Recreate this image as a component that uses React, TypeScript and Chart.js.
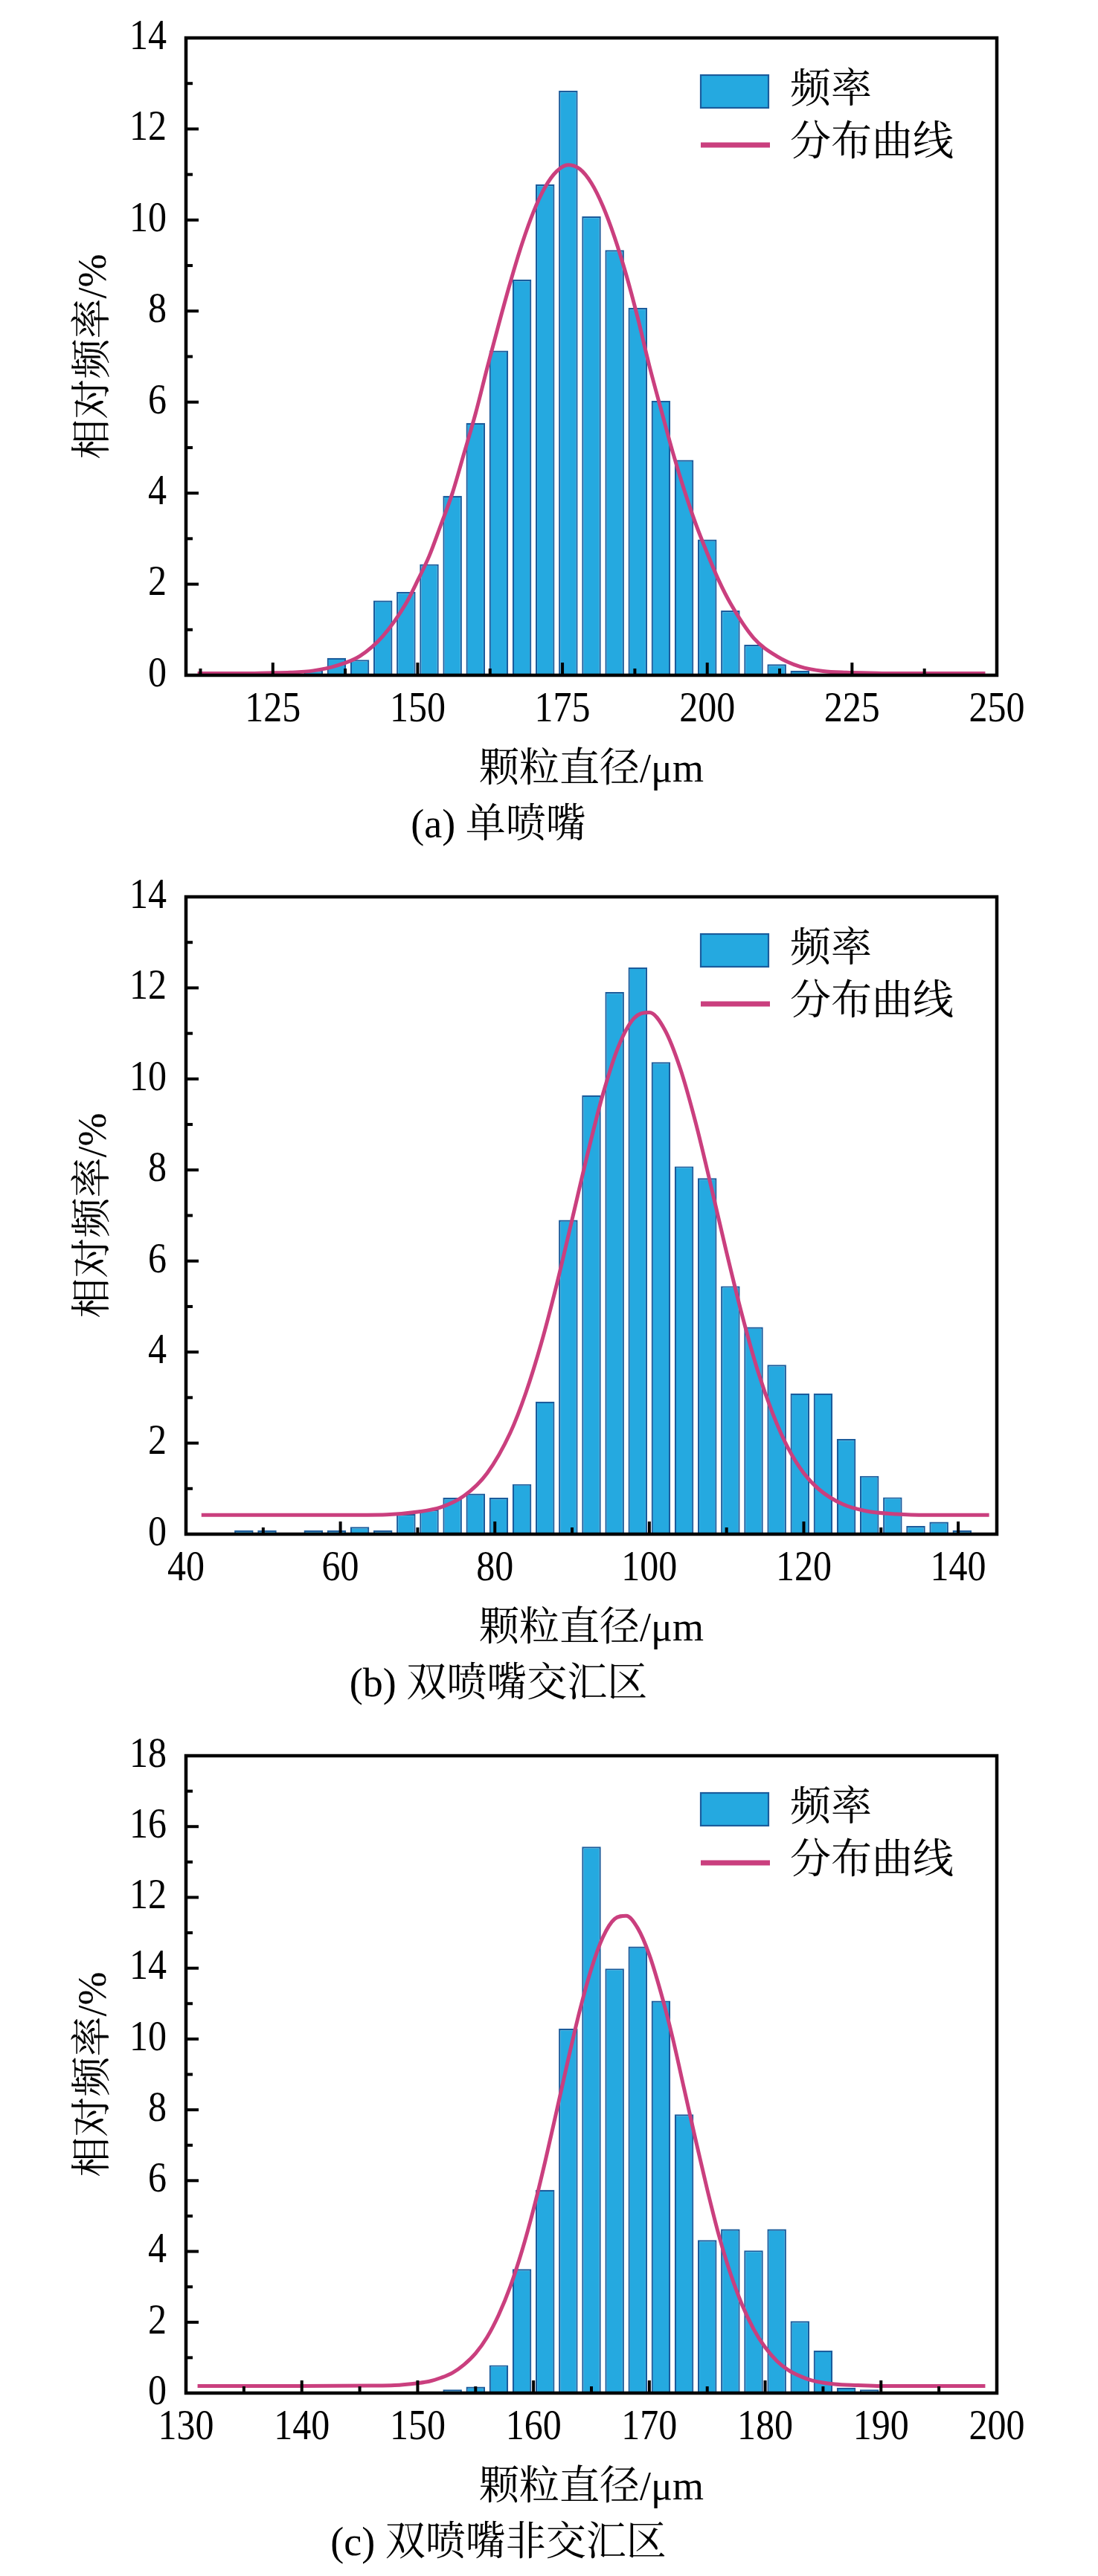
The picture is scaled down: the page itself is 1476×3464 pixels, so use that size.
import React, { useEffect, useRef } from 'react';
import { Chart, registerables } from 'chart.js';

Chart.register(...registerables);

const FONT = "'Liberation Serif', 'Times New Roman', 'Noto Serif CJK SC', 'Noto Sans CJK SC', serif";
const TICK_SIZE = 50;
const TICK_STRETCH = 1.13;

// ---------- Panel (a) 单喷嘴 ----------
const binsA = [128, 132, 136, 140, 144, 148, 152, 156, 160, 164, 168, 172, 176, 180, 184, 188, 192, 196, 200, 204, 208, 212, 216, 220, 224, 228, 232];
const freqA = [0, 0.11, 0.38, 0.34, 1.64, 1.83, 2.44, 3.94, 5.54, 7.13, 8.69, 10.78, 12.84, 10.08, 9.34, 8.07, 6.03, 4.73, 2.98, 1.42, 0.67, 0.24, 0.1, 0, 0, 0, 0.05];
const curveXA = [112, 116, 120, 124, 128, 132, 136, 140, 144, 148, 150, 152, 154, 156, 158, 160, 162, 164, 166, 168, 170, 172, 174, 176, 178, 180, 182, 184, 186, 188, 190, 192, 194, 196, 198, 200, 202, 204, 208, 212, 216, 220, 224, 228, 232, 236, 240, 244, 248];
const curveYA = [0.04, 0.04, 0.04, 0.05, 0.06, 0.1, 0.21, 0.42, 0.86, 1.58, 2.08, 2.62, 3.3, 4.0, 4.87, 5.75, 6.75, 7.71, 8.63, 9.47, 10.18, 10.72, 11.07, 11.21, 11.12, 10.81, 10.3, 9.62, 8.8, 7.85, 6.8, 5.85, 4.92, 4.08, 3.33, 2.68, 2.08, 1.58, 0.82, 0.42, 0.19, 0.09, 0.06, 0.05, 0.04, 0.04, 0.04, 0.04, 0.04];
const xTicksA = [125, 150, 175, 200, 225, 250];
const yTicksA = [0, 2, 4, 6, 8, 10, 12, 14];
const yLabelsA = ['0', '2', '4', '6', '8', '10', '12', '14'];

// ---------- Panel (b) 双喷嘴交汇区 ----------
const binsB = [47.5, 50.5, 53.5, 56.5, 59.5, 62.5, 65.5, 68.5, 71.5, 74.5, 77.5, 80.5, 83.5, 86.5, 89.5, 92.5, 95.5, 98.5, 101.5, 104.5, 107.5, 110.5, 113.5, 116.5, 119.5, 122.5, 125.5, 128.5, 131.5, 134.5, 137.5, 140.5];
const freqB = [0.08, 0.08, 0, 0.08, 0.08, 0.16, 0.08, 0.44, 0.54, 0.8, 0.89, 0.8, 1.1, 2.91, 6.9, 9.64, 11.91, 12.45, 10.37, 8.08, 7.82, 5.45, 4.55, 3.72, 3.09, 3.09, 2.09, 1.28, 0.81, 0.18, 0.27, 0.08];
const curveXB = [42, 50, 60, 66, 70, 73, 76, 79, 82, 84, 86, 88, 90, 92, 94, 96, 98, 100, 102, 104, 106, 108, 110, 112, 114, 116, 118, 120, 122, 125, 128, 132, 136, 144];
const curveYB = [0.42, 0.42, 0.42, 0.43, 0.49, 0.59, 0.84, 1.34, 2.23, 3.1, 4.19, 5.48, 6.91, 8.35, 9.67, 10.71, 11.33, 11.46, 11.08, 10.23, 9.04, 7.64, 6.19, 4.82, 3.61, 2.64, 1.88, 1.34, 0.98, 0.66, 0.51, 0.44, 0.42, 0.42];
const xTicksB = [40, 60, 80, 100, 120, 140];
const yTicksB = [0, 2, 4, 6, 8, 10, 12, 14];
const yLabelsB = ['0', '2', '4', '6', '8', '10', '12', '14'];

// ---------- Panel (c) 双喷嘴非交汇区 ----------
const binsC = [153, 155, 157, 159, 161, 163, 165, 167, 169, 171, 173, 175, 177, 179, 181, 183, 185, 187, 189];
const freqC = [0.1, 0.18, 0.79, 3.5, 5.74, 10.29, 15.43, 11.99, 12.61, 11.08, 7.87, 4.32, 4.63, 4.03, 4.63, 2.03, 1.2, 0.15, 0.1];
const curveXC = [131, 140, 146, 148, 150, 151, 152, 153, 154, 155, 156, 157, 158, 159, 160, 161, 162, 163, 164, 165, 166, 167, 168, 169, 170, 171, 172, 173, 174, 175, 176, 177, 178, 179, 180, 181, 182, 183, 184, 186, 188, 190, 199];
const curveYC = [0.2, 0.2, 0.21, 0.22, 0.28, 0.33, 0.43, 0.57, 0.8, 1.12, 1.58, 2.21, 3.01, 4.01, 5.19, 6.53, 7.97, 9.43, 10.81, 11.99, 12.88, 13.39, 13.48, 13.13, 12.38, 11.31, 10.05, 8.6, 7.15, 5.75, 4.46, 3.38, 2.5, 1.81, 1.29, 0.91, 0.65, 0.48, 0.36, 0.25, 0.22, 0.2, 0.2];
const xTicksC = [130, 140, 150, 160, 170, 180, 190, 200];
const yTicksC = [0, 2, 4, 6, 8, 10, 12, 14, 16, 18];
const yLabelsC = ['0', '2', '4', '6', '8', '10', '14', '12', '16', '18'];

const legendLabels = ['频率', '分布曲线'];
const xTitle = '颗粒直径/μm';
const yTitle = '相对频率/%';

const BAR_FILL = '#25A9E0';
const BAR_EDGE = '#1B5C9C';
const CURVE = '#CA3F7E';

// Tick labels of the original are slightly tall: stretch only the tick-size text vertically.
const stretchPlugin = {
  id: 'stretchTickText',
  beforeDraw(chart: any) {
    const ctx: any = chart.ctx;
    if (ctx.__stretched) return;
    ctx.__stretched = true;
    const orig = ctx.fillText;
    const re = new RegExp('(^|\\s)' + TICK_SIZE + 'px');
    ctx.fillText = function (text: string, x: number, y: number, maxWidth?: number) {
      if (re.test(this.font)) {
        this.save();
        this.translate(x, y);
        this.scale(1, TICK_STRETCH);
        if (maxWidth === undefined) orig.call(this, text, 0, 0);
        else orig.call(this, text, 0, 0, maxWidth);
        this.restore();
      } else if (maxWidth === undefined) {
        orig.call(this, text, x, y);
      } else {
        orig.call(this, text, x, y, maxWidth);
      }
    };
  },
};

const framePlugin = {
  id: 'frameTicks',
  afterDatasetsDraw(chart: any) {
    const { ctx, chartArea } = chart;
    const { left, right, top, bottom } = chartArea;
    const xs = chart.scales.x;
    const ys = chart.scales.y;
    ctx.save();
    ctx.strokeStyle = '#000';
    ctx.lineWidth = 4;
    const drawTicks = (scale: any, horizontal: boolean) => {
      const vals: number[] = scale.ticks.map((t: any) => t.value);
      const step = vals.length > 1 ? vals[1] - vals[0] : 0;
      const minors: number[] = [];
      for (let i = 0; i < vals.length; i++) minors.push(vals[i] - step / 2);
      minors.push(vals[vals.length - 1] + step / 2);
      const draw = (v: number, len: number) => {
        if (v < scale.min - 1e-9 || v > scale.max + 1e-9) return;
        const p = scale.getPixelForValue(v);
        ctx.beginPath();
        if (horizontal) {
          ctx.moveTo(p, bottom);
          ctx.lineTo(p, bottom - len);
        } else {
          ctx.moveTo(left, p);
          ctx.lineTo(left + len, p);
        }
        ctx.stroke();
      };
      vals.forEach((v) => draw(v, 17));
      minors.forEach((v) => draw(v, 9));
    };
    drawTicks(xs, true);
    drawTicks(ys, false);
    ctx.lineWidth = 4.5;
    ctx.strokeRect(left, top, right - left, bottom - top);
    ctx.restore();
  },
};

const legendPlugin = {
  id: 'innerLegend',
  afterDraw(chart: any) {
    const { ctx, chartArea } = chart;
    const ds = chart.data.datasets;
    const bar = ds.find((d: any) => d.type === 'bar');
    const line = ds.find((d: any) => d.type === 'line');
    const x0 = chartArea.right - 398;
    const y0 = chartArea.top;
    ctx.save();
    ctx.fillStyle = bar.backgroundColor;
    ctx.strokeStyle = bar.borderColor;
    ctx.lineWidth = 2.2;
    ctx.fillRect(x0, y0 + 50, 91, 44);
    ctx.strokeRect(x0, y0 + 50, 91, 44);
    ctx.strokeStyle = line.borderColor;
    ctx.lineWidth = 7;
    ctx.beginPath();
    ctx.moveTo(x0, y0 + 144);
    ctx.lineTo(x0 + 93, y0 + 144);
    ctx.stroke();
    ctx.fillStyle = '#000';
    ctx.font = `55px ${FONT}`;
    ctx.textAlign = 'left';
    ctx.textBaseline = 'middle';
    ctx.fillText(bar.label, x0 + 120, y0 + 72);
    ctx.fillText(line.label, x0 + 120, y0 + 143);
    ctx.restore();
  },
};

type PanelProps = {
  bins: number[];
  freq: number[];
  curveX: number[];
  curveY: number[];
  xMin: number;
  xMax: number;
  xTicks: number[];
  yMax: number;
  yTicks: number[];
  yLabels: string[];
  caption: string;
};

const W = 1476;
const H = 1155;

function Panel(p: PanelProps) {
  const ref = useRef<HTMLCanvasElement | null>(null);
  useEffect(() => {
    if (!ref.current) return;
    const chart = new Chart(ref.current, {
      type: 'bar',
      data: {
        datasets: [
          {
            type: 'bar',
            label: legendLabels[0],
            data: p.bins.map((b, i) => ({ x: b, y: p.freq[i] })),
            backgroundColor: BAR_FILL,
            borderColor: BAR_EDGE,
            borderWidth: 2.2,
            barPercentage: 0.82,
            categoryPercentage: 1,
            order: 1,
          } as any,
          {
            type: 'line',
            label: legendLabels[1],
            data: p.curveX.map((x, i) => ({ x, y: p.curveY[i] })),
            borderColor: CURVE,
            borderWidth: 5,
            pointRadius: 0,
            fill: false,
            cubicInterpolationMode: 'monotone',
            order: 0,
          } as any,
        ],
      },
      options: {
        animation: false,
        responsive: false,
        devicePixelRatio: 1,
        layout: { padding: { left: 0, right: 136, top: 30, bottom: 0 } },
        plugins: {
          legend: { display: false },
          tooltip: { enabled: false },
          title: {
            display: true,
            position: 'bottom',
            text: p.caption,
            color: '#000',
            font: { family: FONT, size: 54, weight: 'normal', lineHeight: 1.2 },
            padding: { top: 0, bottom: 10.6 },
          },
        },
        scales: {
          x: {
            type: 'linear',
            min: p.xMin,
            max: p.xMax,
            offset: false,
            grid: { display: false, drawTicks: false, tickLength: 0 },
            border: { display: false },
            afterBuildTicks: (scale: any) => {
              scale.ticks = p.xTicks.map((v) => ({ value: v }));
            },
            afterFit: (scale: any) => {
              scale.height = 171.6;
            },
            ticks: {
              autoSkip: false,
              maxRotation: 0,
              minRotation: 0,
              padding: 22.5,
              color: '#000',
              font: { family: FONT, size: TICK_SIZE, lineHeight: 1 },
              callback: (v: any) => String(v),
            },
            title: {
              display: true,
              text: xTitle,
              color: '#000',
              font: { family: FONT, size: 54, lineHeight: 1.2 },
              padding: { top: 0, bottom: 10.2 },
            },
          },
          y: {
            type: 'linear',
            min: 0,
            max: p.yMax,
            grid: { display: false, drawTicks: false, tickLength: 0 },
            border: { display: false },
            afterBuildTicks: (scale: any) => {
              scale.ticks = p.yTicks.map((v) => ({ value: v }));
            },
            afterFit: (scale: any) => {
              scale.width = 250;
            },
            ticks: {
              autoSkip: false,
              padding: 26,
              color: '#000',
              font: { family: FONT, size: TICK_SIZE, lineHeight: 1 },
              callback: (v: any) => {
                const i = p.yTicks.indexOf(Number(v));
                return i >= 0 ? p.yLabels[i] : '';
              },
            },
            title: {
              display: true,
              text: yTitle,
              color: '#000',
              font: { family: FONT, size: 54, lineHeight: 1.2 },
              padding: { top: 95.6, bottom: 0 },
            },
          },
        },
      } as any,
      plugins: [stretchPlugin, framePlugin, legendPlugin],
    });
    return () => chart.destroy();
  }, []);
  return (
    <div style={{ width: W, height: H }}>
      <canvas ref={ref} width={W} height={H} style={{ display: 'block', width: W, height: H }} />
    </div>
  );
}

export default function App() {
  useEffect(() => {
    document.body.style.margin = '0';
    document.body.style.background = '#fff';
  }, []);
  return (
    <div style={{ width: W, background: '#fff' }}>
      <Panel bins={binsA} freq={freqA} curveX={curveXA} curveY={curveYA} xMin={110} xMax={250} xTicks={xTicksA} yMax={14} yTicks={yTicksA} yLabels={yLabelsA} caption="(a) 单喷嘴" />
      <Panel bins={binsB} freq={freqB} curveX={curveXB} curveY={curveYB} xMin={40} xMax={145} xTicks={xTicksB} yMax={14} yTicks={yTicksB} yLabels={yLabelsB} caption="(b) 双喷嘴交汇区" />
      <Panel bins={binsC} freq={freqC} curveX={curveXC} curveY={curveYC} xMin={130} xMax={200} xTicks={xTicksC} yMax={18} yTicks={yTicksC} yLabels={yLabelsC} caption="(c) 双喷嘴非交汇区" />
    </div>
  );
}
